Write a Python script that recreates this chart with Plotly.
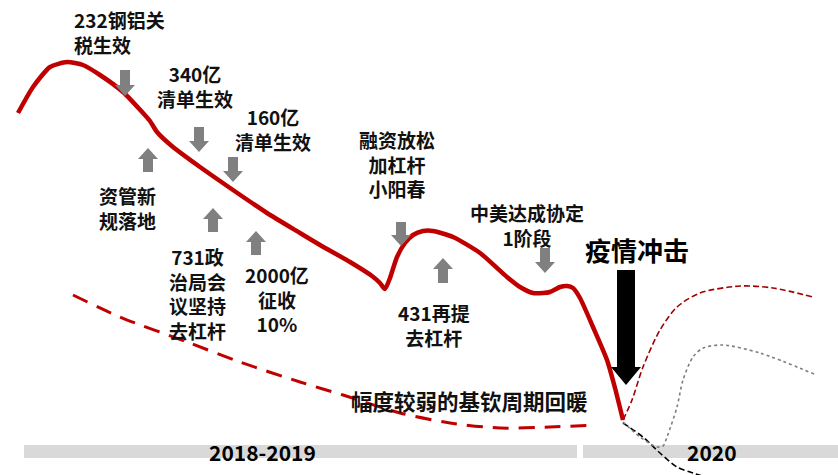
import plotly.graph_objects as go

# canvas units follow the picture: x 0..838 to the right, y 0..475 downwards
main_x = [18, 33, 50, 67, 83, 100, 123, 143, 150, 157, 173, 200, 233, 267, 300, 320, 350, 372, 380, 385,
          390, 397, 405, 413, 423, 433, 453, 480, 507, 520, 533, 543, 550, 560, 567, 573, 580, 593, 607, 615, 623]
main_y = [113, 87, 67, 62, 65, 75, 92, 113, 121, 132, 147, 167, 190, 213, 233, 245, 262, 276, 283, 289,
          278, 257, 243, 235, 231, 231, 237, 253, 277, 287, 293, 293, 292, 287, 286, 288, 298, 327, 360, 388, 420]

kitchin_x = [73, 120, 187, 240, 300, 343, 400, 450, 500, 550, 595]
kitchin_y = [295, 317, 342, 362, 382, 395, 413, 423, 428, 427, 425]

rebound_x = [623, 632, 643, 660, 677, 700, 740, 773, 813]
rebound_y = [420, 400, 367, 330, 307, 293, 286, 288, 297]

weak_x = [623, 640, 657, 663, 667, 677, 683, 693, 703, 723, 760, 814]
weak_y = [422, 437, 447, 446, 437, 407, 380, 357, 348, 345, 353, 374]

fall_x = [623, 643, 660, 677, 693, 715]
fall_y = [423, 437, 453, 467, 473, 480]

# policy events: text, x, y (middle of text block), arrow x, arrow top, arrow bottom, arrow direction
events = [
    ("232钢铝关<br>税生效", 72, 32, 125, 70, 96, "down"),
    ("340亿<br>清单生效", 195, 86, 199, 127, 152, "down"),
    ("160亿<br>清单生效", 273, 129, 233, 157, 182, "down"),
    ("资管新<br>规落地", 127, 208, 148, 148, 172, "up"),
    ("731政<br>治局会<br>议坚持<br>去杠杆", 197, 293, 213, 208, 232, "up"),
    ("2000亿<br>征收<br>10%", 277, 299, 256, 231, 255, "up"),
    ("融资放松<br>加杠杆<br>小阳春", 397, 164, 401, 222, 246, "down"),
    ("431再提<br>去杠杆", 434, 325, 443, 258, 283, "up"),
    ("中美达成协定<br>1阶段", 527, 225, 545, 248, 273, "down"),
]

periods = ["2018-2019", "2020"]
period_start = [24, 583]
period_end = [577, 838]
period_label_x = [262, 712]

FONT = "Noto Sans CJK SC"
RED = "#C00000"


def block_arrow(cx, top, bottom, direction, shaft_w, head_w, head_len):
    s, h = shaft_w / 2, head_w / 2
    if direction == "down":
        yb = bottom - head_len
        pts = [(cx - s, top), (cx + s, top), (cx + s, yb), (cx + h, yb), (cx, bottom),
               (cx - h, yb), (cx - s, yb)]
    else:
        yb = top + head_len
        pts = [(cx - s, bottom), (cx + s, bottom), (cx + s, yb), (cx + h, yb), (cx, top),
               (cx - h, yb), (cx - s, yb)]
    return "M " + " L ".join(f"{x},{y}" for x, y in pts) + " Z"


fig = go.Figure()

fig.add_trace(go.Scatter(x=kitchin_x, y=kitchin_y, mode="lines",
                         line=dict(color=RED, width=3, dash="16px,10px", shape="spline", smoothing=0.8)))
fig.add_trace(go.Scatter(x=fall_x, y=fall_y, mode="lines",
                         line=dict(color="black", width=1.6, dash="6px,3px", shape="spline", smoothing=0.8)))
fig.add_trace(go.Scatter(x=weak_x, y=weak_y, mode="lines",
                         line=dict(color="#7f7f7f", width=1.6, dash="dot", shape="spline", smoothing=0.8)))
fig.add_trace(go.Scatter(x=rebound_x, y=rebound_y, mode="lines",
                         line=dict(color="#A00000", width=1.6, dash="6px,3px", shape="spline", smoothing=0.8)))
fig.add_trace(go.Scatter(x=main_x, y=main_y, mode="lines",
                         line=dict(color=RED, width=4.5, shape="spline", smoothing=0.6)))

shapes = []
for p0, p1 in zip(period_start, period_end):
    shapes.append(dict(type="rect", xref="x", yref="y", x0=p0, x1=p1, y0=445, y1=458,
                       fillcolor="#D9D9D9", line=dict(width=0), layer="below"))

for text, tx, ty, ax, atop, abot, d in events:
    shapes.append(dict(type="path", xref="x", yref="y",
                       path=block_arrow(ax, atop, abot, d, 10, 20, 11),
                       fillcolor="#808080", line=dict(width=0)))

# pandemic shock arrow
shapes.append(dict(type="path", xref="x", yref="y",
                   path=block_arrow(626, 270, 385, "down", 18, 30, 18),
                   fillcolor="black", line=dict(width=0)))

fig.update_layout(shapes=shapes)

for text, tx, ty, ax, atop, abot, d in events:
    left = text.startswith("232")
    fig.add_annotation(x=tx, y=ty, text=f"<b>{text}</b>", showarrow=False,
                       xanchor="left" if left else "center", yanchor="middle",
                       align="left" if left else "center",
                       font=dict(family=FONT, size=19, color="#111111"))

fig.add_annotation(x=637, y=249, text="<b>疫情冲击</b>", showarrow=False,
                   font=dict(family=FONT, size=26, color="black"))
fig.add_annotation(x=469, y=400, text="<b>幅度较弱的基钦周期回暖</b>", showarrow=False,
                   font=dict(family=FONT, size=21.5, color="#111111"))
for label, cx in zip(periods, period_label_x):
    fig.add_annotation(x=cx, y=452, text=f"<b>{label}</b>", showarrow=False,
                       font=dict(family=FONT, size=21, color="black"))

fig.update_xaxes(range=[0, 838], visible=False, fixedrange=True)
fig.update_yaxes(range=[475, 0], visible=False, fixedrange=True)
fig.update_layout(width=838, height=475, margin=dict(l=0, r=0, t=0, b=0),
                  paper_bgcolor="white", plot_bgcolor="white", showlegend=False)

fig.write_html("out.html", config={"displayModeBar": False},
               post_script="document.body.style.margin='0';document.body.style.overflow='hidden';")
